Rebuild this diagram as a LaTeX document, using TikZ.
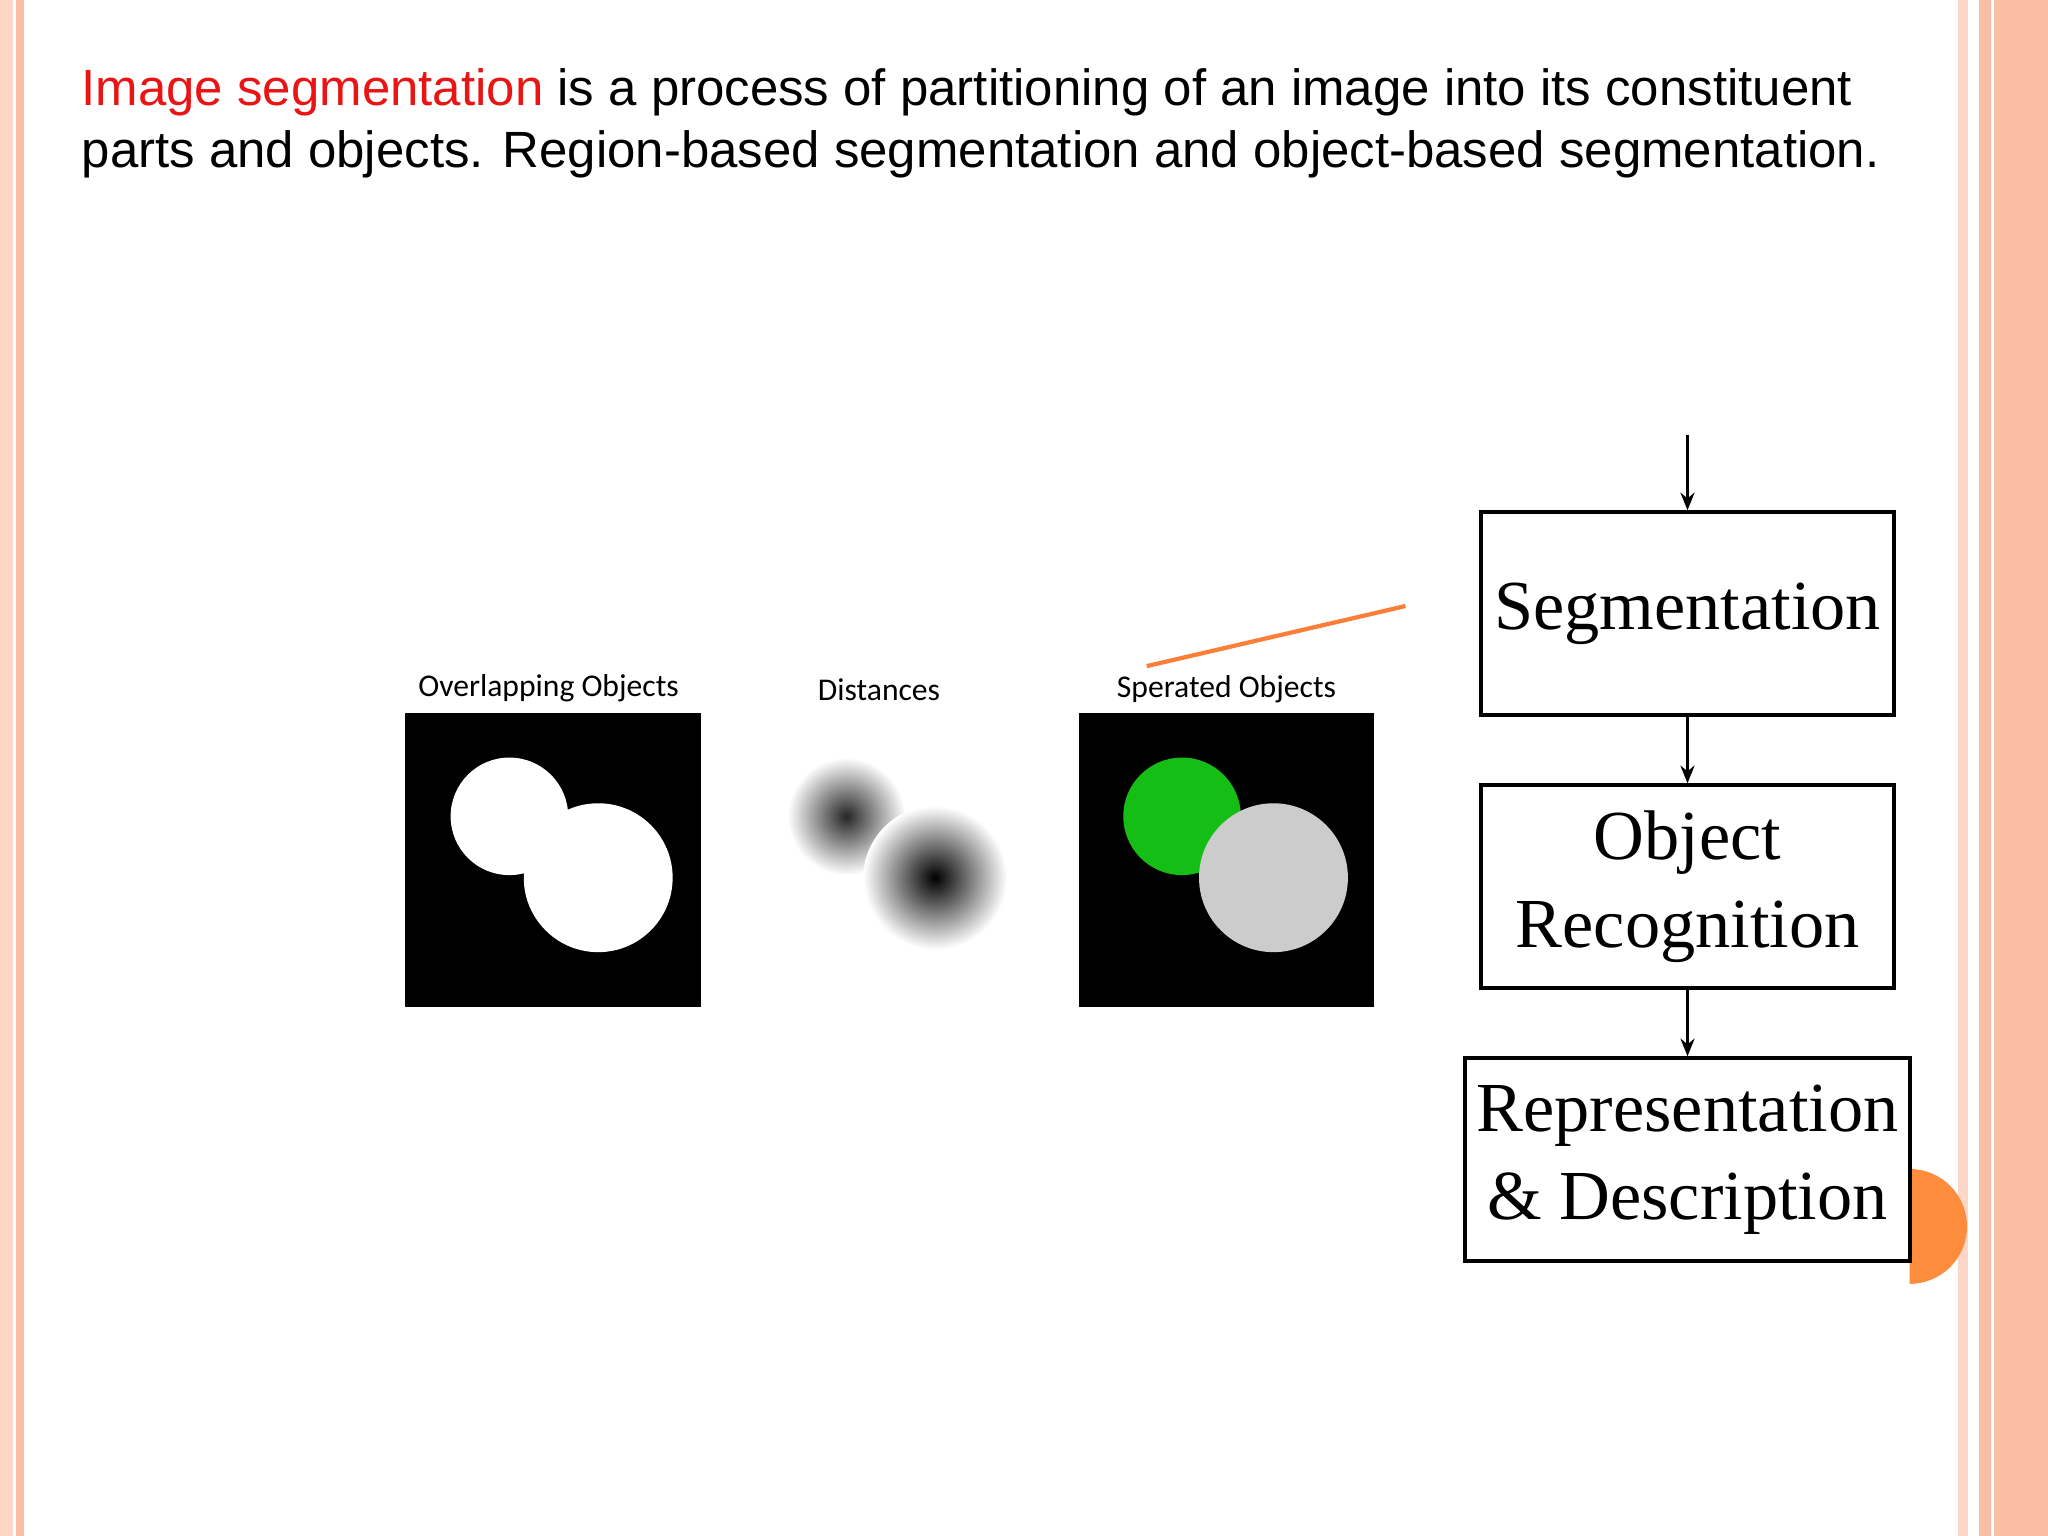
\documentclass[tikz,border=0pt]{standalone}
\usepackage{fontspec}
\setmainfont{Liberation Sans}
\newfontfamily\serifbox{Liberation Serif}
\newfontfamily\capfont{Carlito}
\usetikzlibrary{arrows.meta}
\definecolor{stripe}{RGB}{250,190,165}
\definecolor{stripelight}{RGB}{252,215,200}
\definecolor{orangeacc}{RGB}{253,140,60}
\definecolor{segred}{RGB}{235,20,20}
\definecolor{greenobj}{RGB}{20,190,20}
\tikzset{flowbox/.style={draw,line width=1.2pt,minimum width=4.13cm,minimum height=2.03cm,align=center,font=\serifbox\fontsize{20}{25}\selectfont},
flowarrow/.style={-{Stealth[length=5pt,width=4pt]},line width=1pt},
caption/.style={font=\capfont\fontsize{9}{11}\selectfont}}
\begin{document}
\begin{tikzpicture}[x=0.013061cm,y=-0.013061cm]
\useasboundingbox (0,0) rectangle (1568,1176);
\fill[white] (0,0) rectangle (1568,1176);
% borders
\fill[stripelight] (0,0) rectangle (10,1176);
\fill[stripe] (12,0) rectangle (18,1176);
\fill[stripelight] (1499,0) rectangle (1507,1176);
\fill[stripe] (1515,0) rectangle (1568,1176);
\fill[white] (1524,0) rectangle (1527,1176);
\fill[orangeacc] (1462,983) arc (90:-90:44) -- cycle;
% title text
\node[anchor=north west,align=left,font=\fontsize{14.5}{17.6}\selectfont,inner sep=0] (title) at (62,52)
{{\color{segred}Image segmentation} is a process of partitioning of an image into its constituent\\
parts and objects. Region-based segmentation and object-based segmentation.};
% images
\fill[black] (310,546) rectangle (537,771);
\fill[white] (390,625) circle (45);
\fill[white] (458,672) circle (57);
\node[caption] (c1) at (420,527) {Overlapping Objects};
\node[caption] (c2) at (673,528) {Distances};
\shade[inner color=black!85,outer color=white] (648,625) circle (45);
\shade[inner color=black,outer color=white] (716,672) circle (55);
\fill[black] (826,546) rectangle (1052,771);
\fill[greenobj] (905,625) circle (45);
\fill[black!20] (975,672) circle (57);
\node[caption] (c3) at (939,528) {Sperated Objects};
\draw[orangeacc!90!red,line width=1.2pt] (878,510) -- (1076,464);
% flow
\node[flowbox] (seg) at (1292,470) {Segmentation};
\node[flowbox] (obj) at (1292,679) {Object\\Recognition};
\node[flowbox] (rep) at (1292,888) {Representation\\\& Description};
\coordinate (top) at (1292,333);
\draw[flowarrow] (top) -- (seg.north);
\draw[flowarrow] (seg) -- (obj);
\draw[flowarrow] (obj) -- (rep);
\end{tikzpicture}
\end{document}
